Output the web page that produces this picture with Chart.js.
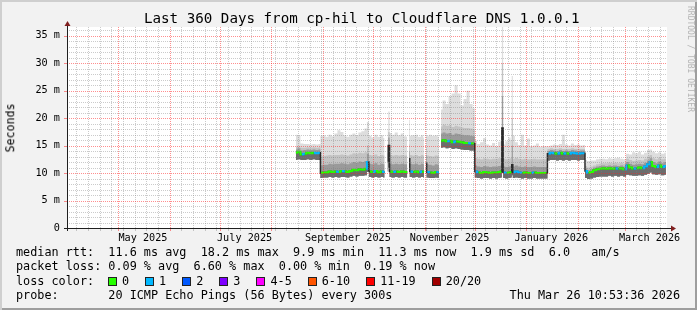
<!DOCTYPE html>
<html>
<head>
<meta charset="utf-8">
<script src="https://cdn.jsdelivr.net/npm/chart.js@4.4.1/dist/chart.umd.min.js"></script>
<style>
  html, body { margin: 0; padding: 0; background: #f2f2f2; }
  #wrap { position: relative; width: 697px; height: 310px; background: #f2f2f2; overflow: hidden;
          font-family: 'DejaVu Sans Mono', monospace; color: #000; }
  #wrap canvas { position: absolute; left: 0; top: 0; }
  .t { position: absolute; white-space: pre; line-height: 1; }
  .leg { font-size: 11.8px; left: 16px; }
  #frame { position: absolute; left: 0; top: 0; width: 697px; height: 310px; pointer-events: none;
           box-shadow: inset 2px 2px 0 #cfcfcf, inset -2px -2px 0 #9e9e9e; }
  #lossRow { position: absolute; left: 108px; top: 276px; display: flex; align-items: center; font-size: 11.8px; line-height: 1; }
  .box { width: 7px; height: 7px; border: 1px solid #222; margin-right: 5px; }
  .lbl { margin-right: 16px; white-space: pre; }
</style>
</head>
<body>
<div id="wrap">
  <canvas id="chart" width="697" height="310"></canvas>
  <div class="t" style="left:144px; top:11px; font-size:14.2px;">Last 360 Days from cp-hil to Cloudflare DNS 1.0.0.1</div>
  <div class="t" style="left:10.5px; top:127.5px; font-size:11.6px; transform:translate(-50%,-50%) rotate(-90deg);">Seconds</div>
  <div class="t" style="left:690px; top:59px; font-size:8px; color:#b4b4b4; transform:translate(-50%,-50%) rotate(90deg);">RRDTOOL / TOBI OETIKER</div>
  <div class="t leg" style="top:247px;">median rtt:  11.6 ms avg  18.2 ms max  9.9 ms min  11.3 ms now  1.9 ms sd  6.0   am/s</div>
  <div class="t leg" style="top:261px;">packet loss: 0.09 % avg  6.60 % max  0.00 % min  0.19 % now</div>
  <div class="t leg" style="top:276px;">loss color:</div>
  <div id="lossRow"></div>
  <div class="t leg" style="top:290px;">probe:       20 ICMP Echo Pings (56 Bytes) every 300s</div>
  <div class="t" style="right:17px; top:290px; font-size:11.8px;">Thu Mar 26 10:53:36 2026</div>
  <div id="frame"></div>
</div>
<script>
// x = days since 2025-03-31 00:00, graph spans 360 days ending Thu Mar 26 2026 10:53:36
const days = [
  137.8, 139.6, 141.4, 143.2, 145.0, 146.8, 148.6, 150.4, 152.2,
  152.8, 154.6, 156.4, 158.2, 160.0, 161.8, 163.6, 165.4, 167.2, 169.0, 170.8, 172.6, 174.4, 176.2, 178.0, 179.8,
  181.0,
  182.2, 184.0, 185.8, 187.6, 189.4, 191.0,
  191.9,
  192.8, 193.6,
  194.4, 196.2, 198.0, 199.8, 201.6, 203.4, 204.6,
  205.1,
  205.7,
  206.5, 208.3, 210.1, 211.9, 213.7, 214.6,
  215.3,
  215.9,
  216.6, 218.4, 220.2, 222.0, 223.6,
  224.3,
  224.9, 226.7, 228.5, 230.3, 232.1, 233.9, 235.7, 237.5, 239.3, 241.1, 242.9, 244.7,
  245.6, 247.4, 249.2, 251.0, 252.8, 254.6, 256.4, 258.2, 260.0, 261.0,
  261.75,
  262.5, 264.3, 266.1, 267.0,
  267.6,
  268.3, 270.1, 271.9, 273.7, 275.5, 277.3, 279.1, 280.9, 282.7, 284.5, 286.3, 288.1,
  289.3, 291.1, 292.9, 294.7, 296.5, 298.3, 300.1, 301.9, 303.7, 305.5, 307.3, 309.1, 310.9,
  311.6, 313.4, 315.2, 317.0, 318.8, 320.6, 322.4, 324.2, 326.0, 327.8, 329.6, 331.4, 333.2, 335.0, 336.8,
  338.6, 340.4, 342.2, 344.0, 345.8, 347.6, 349.4, 350.6, 352.4, 354.2, 356.0, 357.8, 359.8
];
// median rtt in ms
const medianRtt = [
  13.7, 13.9, 13.4, 13.5, 13.7, 13.6, 13.7, 13.6, 13.7,
  10.0, 10.1, 10.1, 10.3, 10.2, 10.3, 10.2, 10.4, 10.3, 10.2, 10.4, 10.6, 10.5, 10.7, 10.6, 10.8,
  12.0,
  10.3, 10.2, 10.4, 10.1, 10.3, 10.2,
  null,
  12.2, 15.0,
  10.3, 10.2, 10.3, 10.2, 10.3, 10.2, 10.2,
  null,
  12.6,
  10.3, 10.2, 10.3, 10.1, 10.3, 10.2,
  null,
  11.8,
  10.2, 10.1, 10.0, 10.2, 10.1,
  null,
  15.9, 16.0, 15.8, 15.9, 15.6, 15.8, 15.7, 15.6, 15.5, 15.5, 15.4, 15.4,
  10.3, 10.1, 10.0, 10.2, 10.1, 10.0, 10.1, 10.1, 10.2, 10.3,
  18.2,
  10.1, 10.0, 10.1, 10.2,
  11.5,
  10.1, 10.3, 10.1, 10.0, 10.1, 10.0, 10.0, 10.1, 10.0, 10.0, 10.0, 10.0,
  13.5, 13.7, 13.6, 13.5, 13.7, 13.5, 13.6, 13.5, 13.7, 13.6, 13.5, 13.6, 13.6,
  10.4, 10.0, 10.2, 10.5, 10.7, 10.8, 10.9, 10.8, 10.9, 10.8, 10.9, 10.8, 10.9, 10.7, 11.4,
  11.0, 10.8, 10.9, 11.0, 10.9, 11.2, 11.6, 12.0, 11.3, 11.1, 11.4, 11.1, 11.3
];
// lost pings out of 20
const lossCount = [
  1, 0, 0, 1, 0, 0, 0, 1, 1,
  1, 0, 0, 0, 0, 0, 1, 0, 1, 0, 0, 0, 0, 0, 0, 0,
  1,
  0, 0, 1, 0, 0, 1,
  null,
  0, 1,
  1, 0, 1, 0, 0, 0, 0,
  null,
  0,
  1, 1, 0, 0, 1, 0,
  null,
  1,
  0, 1, 0, 0, 1,
  null,
  1, 0, 0, 1, 0, 1, 0, 0, 0, 0, 1, 0,
  1, 1, 0, 0, 0, 0, 0, 0, 0, 0,
  1,
  0, 1, 0, 0,
  1,
  0, 1, 1, 1, 0, 0, 0, 1, 0, 0, 0, 0,
  0, 1, 1, 0, 1, 0, 1, 0, 1, 1, 1, 1, 1,
  1, 1, 0, 0, 0, 0, 0, 0, 0, 0, 0, 1, 0, 0, 1,
  0, 0, 1, 0, 0, 1, 1, 1, 0, 0, 1, 0, 1
];
// smoke: lowest ping, top of dark core, top of mid smoke, highest ping (ms)
const smokeLow = [
  12.4, 12.5, 12.4, 12.4, 12.5, 12.4, 12.5, 12.4, 12.4,
  9.1, 9.2, 9.2, 9.3, 9.2, 9.3, 9.2, 9.3, 9.3, 9.2, 9.4, 9.5, 9.4, 9.5, 9.5, 9.6,
  10.2,
  9.3, 9.2, 9.3, 9.2, 9.3, 9.2,
  null,
  10.3, 11.0,
  9.3, 9.2, 9.3, 9.2, 9.3, 9.2, 9.2,
  null,
  10.2,
  9.3, 9.2, 9.3, 9.2, 9.3, 9.2,
  null,
  10.0,
  9.2, 9.1, 9.1, 9.2, 9.1,
  null,
  14.6, 14.7, 14.5, 14.6, 14.4, 14.5, 14.4, 14.3, 14.2, 14.2, 14.1, 14.1,
  9.2, 9.1, 9.0, 9.1, 9.1, 9.0, 9.1, 9.0, 9.1, 9.2,
  10.0,
  9.1, 9.0, 9.1, 9.2,
  9.6,
  9.1, 9.2, 9.1, 9.0, 9.1, 9.0, 9.0, 9.1, 9.0, 9.0, 9.0, 9.0,
  12.3, 12.4, 12.4, 12.3, 12.4, 12.3, 12.4, 12.3, 12.4, 12.4, 12.3, 12.4, 12.4,
  9.1, 8.9, 9.0, 9.2, 9.3, 9.4, 9.4, 9.4, 9.5, 9.4, 9.5, 9.4, 9.5, 9.4, 9.7,
  9.6, 9.5, 9.5, 9.6, 9.5, 9.7, 9.9, 10.1, 9.8, 9.7, 9.8, 9.6, 9.7
];
const smokeMid = [
  14.3, 14.5, 14.1, 14.2, 14.3, 14.2, 14.3, 14.2, 14.3,
  11.4, 11.5, 11.5, 11.7, 11.6, 11.7, 11.7, 11.8, 11.7, 11.6, 11.8, 12.0, 11.9, 12.1, 12.0, 12.2,
  13.5,
  11.7, 11.6, 11.8, 11.5, 11.7, 11.6,
  null,
  13.6, 16.5,
  11.7, 11.6, 11.7, 11.6, 11.7, 11.6, 11.6,
  null,
  13.9,
  11.7, 11.6, 11.7, 11.5, 11.7, 11.6,
  null,
  13.2,
  11.6, 11.5, 11.4, 11.6, 11.5,
  null,
  17.2, 17.4, 17.2, 17.3, 17.0, 17.2, 17.1, 17.0, 16.9, 16.9, 16.8, 16.7,
  11.4, 11.2, 11.1, 11.3, 11.2, 11.1, 11.2, 11.2, 11.3, 11.4,
  24.0,
  11.2, 11.1, 11.2, 11.3,
  15.0,
  11.2, 11.4, 11.2, 11.1, 11.2, 11.1, 11.1, 11.2, 11.1, 11.1, 11.1, 11.1,
  14.0, 14.2, 14.1, 14.0, 14.2, 14.0, 14.1, 14.0, 14.2, 14.1, 14.0, 14.1, 14.1,
  10.9, 10.5, 10.7, 11.0, 11.2, 11.3, 11.4, 11.3, 11.4, 11.3, 11.4, 11.3, 11.4, 11.2, 12.0,
  11.7, 11.5, 11.6, 11.7, 11.6, 11.9, 12.3, 12.7, 12.0, 11.8, 12.1, 11.8, 12.0
];
const smokeHigh = [
  14.8, 14.9, 14.6, 14.6, 14.7, 14.6, 14.7, 14.6, 14.7,
  13.0, 13.1, 13.2, 13.3, 13.2, 13.3, 13.3, 13.4, 13.3, 13.2, 13.4, 13.6, 13.5, 13.7, 13.6, 13.8,
  15.0,
  13.3, 13.2, 13.4, 13.1, 13.3, 13.2,
  null,
  15.0, 17.5,
  13.3, 13.2, 13.3, 13.2, 13.3, 13.2, 13.2,
  null,
  15.2,
  13.3, 13.2, 13.3, 13.1, 13.3, 13.2,
  null,
  14.5,
  13.2, 13.1, 13.0, 13.2, 13.1,
  null,
  18.5, 18.8, 18.6, 18.7, 18.4, 18.6, 18.5, 18.3, 18.2, 18.2, 18.1, 18.0,
  12.8, 12.6, 12.5, 12.7, 12.6, 12.5, 12.6, 12.6, 12.7, 12.8,
  30.0,
  12.6, 12.5, 12.6, 12.8,
  20.0,
  12.6, 12.8, 12.6, 12.5, 12.6, 12.5, 12.5, 12.6, 12.5, 12.5, 12.5, 12.5,
  14.4, 14.5, 14.4, 14.4, 14.5, 14.4, 14.4, 14.4, 14.5, 14.4, 14.4, 14.4, 14.4,
  11.3, 11.0, 11.2, 11.4, 11.6, 11.7, 11.8, 11.8, 11.9, 11.8, 11.9, 11.8, 11.9, 11.7, 12.6,
  12.4, 12.2, 12.3, 12.4, 12.3, 12.6, 13.0, 13.3, 12.7, 12.5, 12.8, 12.5, 12.6
];
const smokeTop = [
  17.0, 16.9, 15.4, 15.3, 15.3, 15.2, 15.3, 15.2, 15.3,
  16.8, 16.9, 16.6, 17.0, 16.7, 17.2, 17.8, 17.5, 16.9, 16.6, 17.0, 17.2, 16.9, 17.4, 17.6, 18.1,
  19.3,
  16.8, 16.5, 17.0, 16.6, 16.9, 16.4,
  null,
  18.0, 21.2,
  17.3, 17.0, 17.4, 16.9, 17.2, 16.7, 16.6,
  null,
  19.7,
  16.8, 16.9, 17.0, 16.6, 16.9, 16.5,
  null,
  17.0,
  16.7, 17.0, 16.8, 16.9, 16.6,
  null,
  21.6, 23.2, 22.6, 24.0, 24.5, 26.0, 24.5, 22.3, 23.5, 25.0, 22.6, 21.8,
  15.9, 15.3, 15.6, 16.4, 15.2, 15.0, 15.5, 14.9, 15.7, 16.0,
  36.6,
  15.2, 15.8, 16.5, 16.0,
  27.7,
  16.8, 15.6, 15.1, 17.0, 15.0, 16.3, 14.9, 15.0, 15.4, 14.8, 14.9, 14.9,
  14.9, 15.0, 15.2, 15.1, 15.3, 17.0, 15.2, 15.0, 15.4, 15.1, 15.2, 15.0, 15.1,
  12.4, 12.2, 12.3, 12.3, 12.5, 12.6, 12.6, 12.5, 12.7, 12.6, 12.7, 12.8, 12.6, 12.5, 13.5,
  13.4, 13.8, 13.6, 13.9, 13.4, 13.7, 14.2, 14.3, 13.9, 13.6, 13.8, 13.5, 13.7
];

const yTickValues = [0, 5, 10, 15, 20, 25, 30, 35];
const yTickLabels = ['0', '5 m', '10 m', '15 m', '20 m', '25 m', '30 m', '35 m'];
const monthLabels = ['May 2025', 'July 2025', 'September 2025', 'November 2025', 'January 2026', 'March 2026'];
const lossLegend = ['0', '1', '2', '3', '4-5', '6-10', '11-19', '20/20'];
const lossColors = ['#26ff00', '#00b8ff', '#0059ff', '#7e00ff', '#ff00ff', '#ff5500', '#ff0000', '#a10000'];

const yMax = 36.6;
const MONO = "'DejaVu Sans Mono', monospace";
const dayOf = (y, m, d) => (Date.UTC(y, m, d) - Date.UTC(2025, 2, 31)) / 86400000;
const xMin = (10 + 53 / 60 + 36 / 3600) / 24;
const xMax = xMin + 360;

// loss legend row
const lossRow = document.getElementById('lossRow');
lossLegend.forEach((txt, i) => {
  const b = document.createElement('span');
  b.className = 'box';
  b.style.background = lossColors[i];
  const l = document.createElement('span');
  l.className = 'lbl';
  l.textContent = txt;
  lossRow.appendChild(b);
  lossRow.appendChild(l);
});

function lossBucket(n) {
  if (n <= 3) return n;
  if (n <= 5) return 4;
  if (n <= 10) return 5;
  if (n <= 19) return 6;
  return 7;
}

// x grid: weekly minor lines (Sundays), monthly major lines, labels mid-month every 2 months
const xTicks = [];
const monthStarts = [];
for (let m = 4; m <= 14; m++) monthStarts.push(dayOf(2025, m, 1));
for (let d = dayOf(2025, 3, 6); d < xMax; d += 7) {
  if (!monthStarts.includes(d)) xTicks.push({ value: d, kind: 'minor' });
}
monthStarts.forEach(d => xTicks.push({ value: d, kind: 'major' }));
monthLabels.forEach((txt, i) => xTicks.push({ value: dayOf(2025, 4 + i * 2, 1) + 15, kind: 'label', text: txt }));
xTicks.sort((a, b) => a.value - b.value);

const yTicks = [];
for (let v = 0; v <= Math.floor(yMax); v++) yTicks.push({ value: v, kind: v % 5 === 0 ? 'major' : 'minor' });

const MINOR = 'rgba(125,125,125,0.4)';
const MAJOR = 'rgba(255,30,30,0.5)';
const NONE = 'rgba(0,0,0,0)';

const pts = arr => days.map((d, i) => ({ x: d, y: arr[i] }));

// rrdtool style dotted grid, drawn over the graph from the chart's own scales
const rrdGrid = {
  id: 'rrdGrid',
  afterDatasetsDraw(chart) {
    const { ctx, chartArea: a, scales: { x, y } } = chart;
    ctx.save();
    ctx.lineWidth = 1;
    ctx.setLineDash([1, 1]);
    x.ticks.forEach(t => {
      if (t.kind === 'label') return;
      const px = Math.round(x.getPixelForValue(t.value)) + 0.5;
      ctx.strokeStyle = t.kind === 'major' ? MAJOR : MINOR;
      ctx.beginPath(); ctx.moveTo(px, a.bottom); ctx.lineTo(px, a.top); ctx.stroke();
    });
    y.ticks.forEach(t => {
      if (t.value === 0) return;
      const py = Math.round(y.getPixelForValue(t.value)) + 0.5;
      ctx.strokeStyle = t.kind === 'major' ? MAJOR : MINOR;
      ctx.beginPath(); ctx.moveTo(a.left, py); ctx.lineTo(a.right, py); ctx.stroke();
    });
    ctx.setLineDash([]);
    x.ticks.forEach(t => {
      if (t.kind === 'label') return;
      const px = Math.round(x.getPixelForValue(t.value)) + 0.5;
      ctx.strokeStyle = t.kind === 'major' ? MAJOR : MINOR;
      ctx.beginPath(); ctx.moveTo(px, a.bottom + 1); ctx.lineTo(px, a.bottom + 3); ctx.stroke();
    });
    y.ticks.forEach(t => {
      if (t.value === 0 || t.kind !== 'major') return;
      const py = Math.round(y.getPixelForValue(t.value)) + 0.5;
      ctx.strokeStyle = MAJOR;
      ctx.beginPath(); ctx.moveTo(a.left - 3, py); ctx.lineTo(a.left, py); ctx.stroke();
    });
    ctx.restore();
  }
};

const rrdFrame = {
  id: 'rrdFrame',
  beforeDraw(chart) {
    const { ctx, chartArea: a } = chart;
    ctx.save();
    ctx.fillStyle = '#ffffff';
    ctx.fillRect(a.left, a.top, a.right - a.left, a.bottom - a.top);
    ctx.restore();
  },
  afterDraw(chart) {
    const { ctx, chartArea: a } = chart;
    const y0 = a.bottom + 0.5, x0 = a.left + 0.5;
    ctx.save();
    ctx.strokeStyle = '#1f1f1f';
    ctx.lineWidth = 1;
    ctx.beginPath();
    ctx.moveTo(a.left - 3, y0); ctx.lineTo(a.right + 4, y0);
    ctx.moveTo(x0, a.bottom + 3); ctx.lineTo(x0, a.top - 1);
    ctx.stroke();
    ctx.fillStyle = '#801f1f';
    ctx.beginPath();
    ctx.moveTo(a.right + 4, y0 - 3); ctx.lineTo(a.right + 9, y0); ctx.lineTo(a.right + 4, y0 + 3);
    ctx.closePath(); ctx.fill();
    ctx.beginPath();
    ctx.moveTo(x0 - 3, a.top - 1); ctx.lineTo(x0, a.top - 6); ctx.lineTo(x0 + 3, a.top - 1);
    ctx.closePath(); ctx.fill();
    ctx.restore();
  }
};

const band = { pointRadius: 0, borderWidth: 0, borderColor: NONE, stepped: 'middle', spanGaps: false };
// chart.js grid kept on (for label spacing) but invisible; the plugin draws the visible grid
const hiddenGrid = { display: true, drawOnChartArea: false, drawTicks: true, tickLength: 3, color: NONE, tickColor: NONE };

new Chart(document.getElementById('chart').getContext('2d'), {
  type: 'line',
  data: {
    datasets: [
      {
        label: 'median rtt', data: pts(medianRtt), order: 0, fill: false,
        pointRadius: 0, borderWidth: 2, borderColor: lossColors[0], stepped: 'middle', spanGaps: false,
        segment: {
          borderColor: c => {
            const a = medianRtt[c.p0DataIndex], b = medianRtt[c.p1DataIndex];
            if (a === null || b === null || Math.abs(b - a) > 1.2) return NONE;
            return lossColors[lossBucket(lossCount[c.p1DataIndex])];
          }
        }
      },
      { label: 'median shadow', data: pts(medianRtt), order: 1, fill: false,
        pointRadius: 0, borderWidth: 1.5, borderColor: '#2a2a2a', stepped: 'middle', spanGaps: false },
      { ...band, label: 'smoke low', data: pts(smokeLow), order: 6, fill: false },
      { ...band, label: 'smoke top', data: pts(smokeTop), order: 5, fill: 2, backgroundColor: '#dddddd' },
      { ...band, label: 'smoke high', data: pts(smokeHigh), order: 4, fill: 2, backgroundColor: '#c3c3c3' },
      { ...band, label: 'smoke mid', data: pts(smokeMid), order: 3, fill: 2, backgroundColor: '#9a9a9a' },
      { ...band, label: 'smoke core', data: pts(medianRtt), order: 2, fill: 2, backgroundColor: '#6c6c6c' }
    ]
  },
  options: {
    responsive: false,
    animation: false,
    devicePixelRatio: 1,
    layout: { padding: { left: 0, right: 30, top: 27, bottom: 0 } },
    plugins: { legend: { display: false }, tooltip: { enabled: false }, title: { display: false } },
    scales: {
      x: {
        type: 'linear', min: xMin, max: xMax,
        afterBuildTicks: s => { s.ticks = xTicks.map(t => ({ ...t })); },
        afterFit: s => { s.height = 82; },
        grid: hiddenGrid,
        border: { display: false },
        ticks: {
          autoSkip: false, maxRotation: 0, minRotation: 0, padding: 1, color: '#000',
          font: { family: MONO, size: 10.2 },
          callback: (v, i, ticks) => ticks[i].text || ''
        }
      },
      y: {
        min: 0, max: yMax,
        afterBuildTicks: s => { s.ticks = yTicks.map(t => ({ ...t })); },
        afterFit: s => { s.width = 67; },
        grid: hiddenGrid,
        border: { display: false },
        ticks: {
          autoSkip: false, padding: 4, color: '#000', font: { family: MONO, size: 10.2 },
          callback: v => {
            const k = yTickValues.indexOf(v);
            return k >= 0 ? yTickLabels[k] : '';
          }
        }
      }
    }
  },
  plugins: [rrdGrid, rrdFrame]
});
</script>
</body>
</html>
